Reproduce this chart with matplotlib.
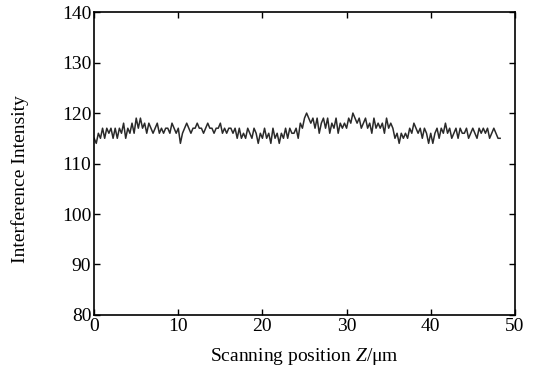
import matplotlib
matplotlib.use("Agg")
import matplotlib.pyplot as plt
import numpy as np

# paso de escaneo (um) y señal de interferencia
z_step = 0.25
intensity = [
    115, 114, 116, 115, 117, 115, 117, 116, 117,
    115, 117, 115, 117, 116, 118, 115, 117,
    116, 118, 116, 119, 117, 119, 117, 118,
    116, 118, 117, 116, 117, 118, 116, 117,
    116, 117, 117, 116, 118, 117, 116, 117,
    114, 116, 117, 118, 117, 116, 117, 117,
    118, 117, 117, 116, 117, 118, 117, 117,
    116, 117, 117, 118, 116, 117, 116, 117,
    117, 116, 117, 115, 117, 115, 116, 115,
    117, 116, 115, 117, 116, 114, 116, 115,
    117, 115, 116, 114, 117, 115, 116, 114,
    116, 115, 117, 115, 117, 116, 116, 117,
    115, 118, 117, 119, 120, 119, 118, 119,
    117, 119, 116, 118, 119, 117, 119, 116,
    118, 117, 119, 116, 118, 117, 118, 117,
    119, 118, 120, 119, 118, 119, 117, 118,
    119, 117, 118, 116, 119, 117, 118, 117,
    118, 116, 119, 117, 118, 117, 115, 116,
    114, 116, 115, 116, 115, 117, 116, 118,
    117, 116, 117, 115, 117, 116, 114, 116,
    114, 116, 117, 115, 117, 116, 118, 116,
    117, 115, 116, 117, 115, 117, 116, 116,
    117, 115, 116, 117, 116, 115, 117, 116,
    117, 116, 117, 115, 116, 117, 116, 115,
    115,
]
x_ticks = [0, 10, 20, 30, 40, 50]
y_ticks = [80, 90, 100, 110, 120, 130, 140]

plt.rcParams['font.family'] = ['Liberation Serif', 'DejaVu Serif']
plt.rcParams['mathtext.fontset'] = 'custom'
plt.rcParams['mathtext.rm'] = 'Liberation Serif'
plt.rcParams['mathtext.it'] = 'Liberation Serif:italic'

z = np.arange(len(intensity)) * z_step

fig = plt.figure(figsize=(5.38, 3.79), dpi=100)
ax = fig.add_axes([0.175, 0.169, 0.782, 0.799])
ax.plot(z, intensity, color='#2a2a2a', linewidth=1.1)

ax.set_xlim(0, 50)
ax.set_ylim(80, 140)
ax.set_xticks(x_ticks)
ax.set_yticks(y_ticks)
ax.tick_params(direction='in', top=True, right=True, labelsize=14, length=4, width=1, pad=2)
for s in ax.spines.values():
    s.set_linewidth(1.2)

ax.set_xlabel(r'Scanning position $\it{Z}$/μm', fontsize=14, labelpad=8)
ax.set_ylabel('Interference Intensity', fontsize=14)
ax.yaxis.set_label_coords(-0.155, 0.45)

fig.savefig('out.png', dpi=100)
